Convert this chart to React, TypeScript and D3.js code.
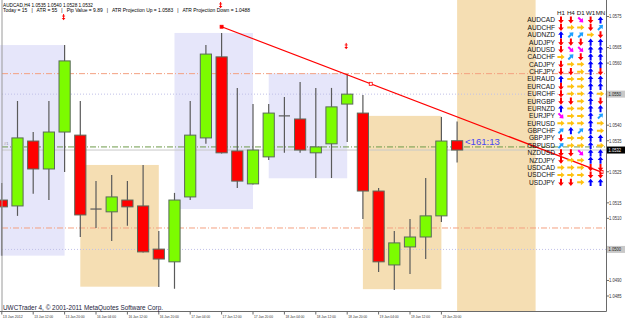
import React from 'react';
import * as d3 from 'd3';

const W = 625;
const H = 320;

// ---- data (AUDCAD H4) ----
const opens = [1.05159, 1.0514, 1.05349, 1.05259, 1.05378, 1.05368, 1.0513, 1.05121, 1.05159, 1.0514, 1.05001, 1.0496, 1.05169, 1.05359, 1.0562, 1.05317, 1.05211, 1.05298, 1.0543, 1.0542, 1.05311, 1.0534, 1.05468, 1.05439, 1.05188, 1.0495, 1.05008, 1.0504, 1.05108, 1.0535];
const highs = [1.05214, 1.05478, 1.05378, 1.05478, 1.05658, 1.05478, 1.0522, 1.0524, 1.0522, 1.05272, 1.05059, 1.05182, 1.05478, 1.05658, 1.05697, 1.0552, 1.05468, 1.05468, 1.05491, 1.05539, 1.0552, 1.0552, 1.05565, 1.05497, 1.05198, 1.05059, 1.05098, 1.0523, 1.05426, 1.05412];
const lows = [1.0498, 1.05108, 1.05179, 1.05159, 1.05249, 1.0504, 1.05069, 1.05027, 1.05076, 1.0499, 1.04879, 1.04873, 1.05159, 1.0534, 1.05309, 1.05198, 1.05209, 1.05288, 1.05311, 1.05311, 1.0523, 1.0523, 1.05346, 1.05098, 1.04927, 1.04869, 1.04921, 1.04969, 1.05088, 1.0528];
const closes = [1.05137, 1.05359, 1.05259, 1.05378, 1.05607, 1.05111, 1.0513, 1.05169, 1.05137, 1.04992, 1.04969, 1.05159, 1.05368, 1.05629, 1.05311, 1.0522, 1.0532, 1.05439, 1.0543, 1.0532, 1.0533, 1.05459, 1.055, 1.05188, 1.0496, 1.05021, 1.0504, 1.05108, 1.05349, 1.0532];

const timeTickBars = [0, 2, 4, 6, 8, 10, 12, 14, 16, 18, 20, 22, 24, 26, 28];
const timeTickLabels = ['13 Jan 2012', '13 Jan 12:00', '13 Jan 20:00', '16 Jan 04:00', '16 Jan 12:00', '16 Jan 20:00', '17 Jan 04:00', '17 Jan 12:00', '17 Jan 20:00', '18 Jan 04:00', '18 Jan 12:00', '18 Jan 20:00', '19 Jan 04:00', '19 Jan 12:00', '19 Jan 20:00'];

const priceTicks = [1.0575, 1.0565, 1.056, 1.054, 1.0535, 1.0525, 1.0515, 1.051, 1.049, 1.0485];
const levelBoxes = [1.055, 1.05];
const currentPrice = 1.0532;

// session boxes: [fromBar, toBar, top, bottom]
const lavenderBoxes = [[-1, 4, 1.05658, 1.0498], [11, 16, 1.05697, 1.0513], [17, 22, 1.05567, 1.05229]];
const wheatBoxes = [[5, 10, 1.05272, 1.0488], [23, 28, 1.0543, 1.04872], [29, 34, 1.0582, 1.0478]];

const orangeLevels = [1.05566, 1.05069];
const dottedLevels = [1.055, 1.05];
const greenLevel = 1.0533;

const trendBars = [14, 23.5, 38.2];
const trendPrices = [1.05717, 1.05537, 1.05249];
const fractalBars = [4, 14, 22];

const headerLine1 = 'AUDCAD,H4  1.0535 1.0540 1.0528 1.0532';
const headerLine2 = 'Today = 15   |   ATR = 55   |   Pip Value = 9.89   |   ATR Projection Up = 1.0583   |   ATR Projection Down = 1.0488';
const timerText = '<161:13';

const pairs = ['AUDCAD', 'AUDCHF', 'AUDNZD', 'AUDJPY', 'AUDUSD', 'CADCHF', 'CADJPY', 'CHFJPY', 'EURAUD', 'EURCAD', 'EURCHF', 'EURGBP', 'EURNZD', 'EURJPY', 'EURUSD', 'GBPCHF', 'GBPJPY', 'GBPUSD', 'NZDUSD', 'NZDJPY', 'USDCAD', 'USDCHF', 'USDJPY'];
const periods = ['H1', 'H4', 'D1', 'W1', 'MN'];
const trends = [
  'd d dr d u',
  'd r r d ur',
  'u ur ur r d',
  'd d d u u',
  'd dr dr u u',
  'r ur d u u',
  'd r r u u',
  'd d r u d',
  'u r r u u',
  'd r r u u',
  'd r r u r',
  'd d r u d',
  'u r r u u',
  'dr r r u ur',
  'r r r u r',
  'ur u ur u r',
  'd r r u u',
  'ur r r u r',
  'd d dr u u',
  'd r r u u',
  'r r r d d',
  'r r r d d',
  'd d r u u',
];

const dirRot: Record<string, number> = { d: 0, r: -90, u: 180, dr: -45, ur: -135 };
const dirColor: Record<string, string> = { d: '#FF0000', r: '#FFC20E', u: '#0000FF', dr: '#FF00FF', ur: '#1EA0FF' };
const arrowPath = 'M-1,-3.6 L1,-3.6 L1,0.1 L2.8,0.1 L0,3.6 L-2.8,0.1 L-1,0.1 Z';

const FONT = 'Liberation Sans, Arial, sans-serif';

export default function App() {
  const x = d3.scaleLinear().domain([0, 29]).range([1.8, 1.8 + 15.7 * 29]);
  const y = d3.scaleLinear().domain([1.0485, 1.0575]).range([296, 16.5]);
  const plotRight = 606.5;
  const plotBottom = 311.5;
  const bodyW = 11.2;

  const rowY = d3.scaleLinear().domain([0, pairs.length - 1]).range([20, 20 + 7.38 * (pairs.length - 1)]);
  const colX = d3.scalePoint().domain(periods).range([561, 600.5]);

  return (
    <svg width={W} height={H} style={{ position: 'absolute', left: 0, top: 0, background: '#fff' }} fontFamily={FONT}>
      <defs>
        <clipPath id="plot"><rect x={0} y={0} width={plotRight} height={plotBottom} /></clipPath>
      </defs>
      <rect x={0} y={0} width={W} height={H} fill="#fff" />
      <g clipPath="url(#plot)">
        {lavenderBoxes.map((b, i) => (
          <rect key={'lb' + i} x={x(b[0])} y={y(b[2])} width={x(b[1]) - x(b[0])} height={y(b[3]) - y(b[2])} fill="#E6E6FA" />
        ))}
        {wheatBoxes.map((b, i) => (
          <rect key={'wb' + i} x={x(b[0])} y={y(b[2])} width={x(b[1]) - x(b[0])} height={y(b[3]) - y(b[2])} fill="#F5DEB3" />
        ))}
        {orangeLevels.map((p, i) => (
          <line key={'ol' + i} x1={2} x2={plotRight} y1={y(p)} y2={y(p)} stroke="#F4A080" strokeWidth={1} strokeDasharray="6,2,1,2" />
        ))}
        {dottedLevels.map((p, i) => (
          <line key={'dl' + i} x1={2} x2={plotRight} y1={y(p)} y2={y(p)} stroke="#C0C0E8" strokeWidth={1} strokeDasharray="1,2" />
        ))}
        <line x1={2} x2={plotRight} y1={y(currentPrice)} y2={y(currentPrice)} stroke="#C8C8C8" strokeWidth={1} />
        <line x1={2} x2={plotRight} y1={y(greenLevel)} y2={y(greenLevel)} stroke="#6E9A4A" strokeWidth={1} strokeDasharray="6,2,1,2" />
        {opens.map((o, i) => {
          const c = closes[i];
          const up = c > o;
          const doji = Math.abs(c - o) < 0.00003;
          const cx = x(i);
          const top = y(Math.max(o, c));
          const bot = y(Math.min(o, c));
          return (
            <g key={'c' + i}>
              <line x1={cx} x2={cx} y1={y(highs[i])} y2={y(lows[i])} stroke="#5a5a5a" strokeWidth={1.2} />
              {doji ? (
                <line x1={cx - bodyW / 2} x2={cx + bodyW / 2} y1={top} y2={top} stroke="#5a5a5a" strokeWidth={1.2} />
              ) : (
                <rect x={cx - bodyW / 2} y={top} width={bodyW} height={Math.max(1, bot - top)} fill={up ? '#7CFC00' : '#FF0000'} stroke="#5a6a5a" strokeWidth={1} />
              )}
            </g>
          );
        })}
        <line x1={x(trendBars[0])} y1={y(trendPrices[0])} x2={x(trendBars[2])} y2={y(trendPrices[2])} stroke="#FF0000" strokeWidth={1.3} />
        {trendBars.map((b, i) => (
          <rect key={'tm' + i} x={x(b) - 1.5} y={y(trendPrices[0] + (trendPrices[2] - trendPrices[0]) * (b - trendBars[0]) / (trendBars[2] - trendBars[0])) - 1.5} width={3} height={3} fill={i === 0 ? '#FF0000' : '#fff'} stroke="#FF0000" strokeWidth={0.8} />
        ))}
        {fractalBars.map((b, i) => {
          const fx = x(b) - 1;
          const fy = y(highs[b]) - 28;
          return (
            <g key={'fr' + i} transform={`translate(${fx},${fy})`}>
              <line x1={0} x2={0} y1={-3} y2={2} stroke="#FF0000" strokeWidth={1} />
              <line x1={-1.5} x2={1.5} y1={-1} y2={-1} stroke="#FF0000" strokeWidth={0.8} />
              <path d="M-1.8,1 L1.8,1 L0,3.2 Z" fill="#FF0000" />
            </g>
          );
        })}
      </g>

      {/* header texts */}
      <text x={3} y={6.8} fontSize={4.8} fill="#000" textLength={90} lengthAdjust="spacingAndGlyphs">{headerLine1}</text>
      <text x={3} y={11.6} fontSize={4.8} fill="#000" textLength={247} lengthAdjust="spacingAndGlyphs" style={{ whiteSpace: 'pre' }}>{headerLine2}</text>

      <text x={4} y={145} fontSize={4} fill="#888">#1</text>

      <text x={465} y={144.5} fontSize={9.6} fill="#4848F0">{timerText}</text>

      {/* trend panel */}
      <g>
        {periods.map((p, j) => (
          <text key={'ph' + j} x={colX(p)} y={15.2} fontSize={6.2} textAnchor="middle" fill="#111">{p}</text>
        ))}
      </g>
      {pairs.map((p, i) => (
        <g key={'pr' + i}>
          <text x={555} y={rowY(i) + 2.4} fontSize={6.6} textAnchor="end" fill="#111">{p}</text>
          {trends[i].split(' ').map((d, j) => (
            <path key={j} d={arrowPath} fill={dirColor[d]} transform={`translate(${colX(periods[j])},${rowY(i)}) rotate(${dirRot[d]})`} />
          ))}
        </g>
      ))}

      {/* axes */}
      <line x1={2} x2={2} y1={0} y2={plotBottom} stroke="#9a9a9a" strokeWidth={1} />
      <line x1={plotRight} x2={plotRight} y1={0} y2={plotBottom} stroke="#6a6a6a" strokeWidth={1} />
      <line x1={0} x2={plotRight} y1={plotBottom} y2={plotBottom} stroke="#6a6a6a" strokeWidth={1} />

      {priceTicks.map((p, i) => (
        <g key={'pt' + i}>
          <line x1={plotRight} x2={plotRight + 2.5} y1={y(p)} y2={y(p)} stroke="#6a6a6a" />
          <text x={609} y={y(p) + 1.9} fontSize={5.2} fill="#333" textLength={12.5} lengthAdjust="spacingAndGlyphs">{p.toFixed(4)}</text>
        </g>
      ))}
      {levelBoxes.map((p, i) => (
        <g key={'lbx' + i}>
          <rect x={plotRight + 0.5} y={y(p) - 3.5} width={18} height={7} fill="#C8C8C8" />
          <text x={608.5} y={y(p) + 1.9} fontSize={5.2} fill="#222" textLength={12.5} lengthAdjust="spacingAndGlyphs">{p.toFixed(4)}</text>
        </g>
      ))}
      <rect x={plotRight + 0.5} y={y(currentPrice) - 3.5} width={18} height={7} fill="#000" />
      <text x={608.5} y={y(currentPrice) + 1.9} fontSize={5.2} fill="#fff" textLength={12.5} lengthAdjust="spacingAndGlyphs">{currentPrice.toFixed(4)}</text>

      {timeTickBars.map((b, i) => (
        <g key={'tt' + i}>
          <line x1={x(b)} x2={x(b)} y1={plotBottom} y2={plotBottom + 3} stroke="#6a6a6a" />
          <text x={x(b) + 1} y={318} fontSize={4.2} fill="#333" textLength={i === 0 ? 20 : 19} lengthAdjust="spacingAndGlyphs">{timeTickLabels[i]}</text>
        </g>
      ))}

      <text x={3} y={310.3} fontSize={6.8} fill="#1c1c3c" textLength={160} lengthAdjust="spacingAndGlyphs">UWCTrader 4, © 2001-2011 MetaQuotes Software Corp.</text>
    </svg>
  );
}
